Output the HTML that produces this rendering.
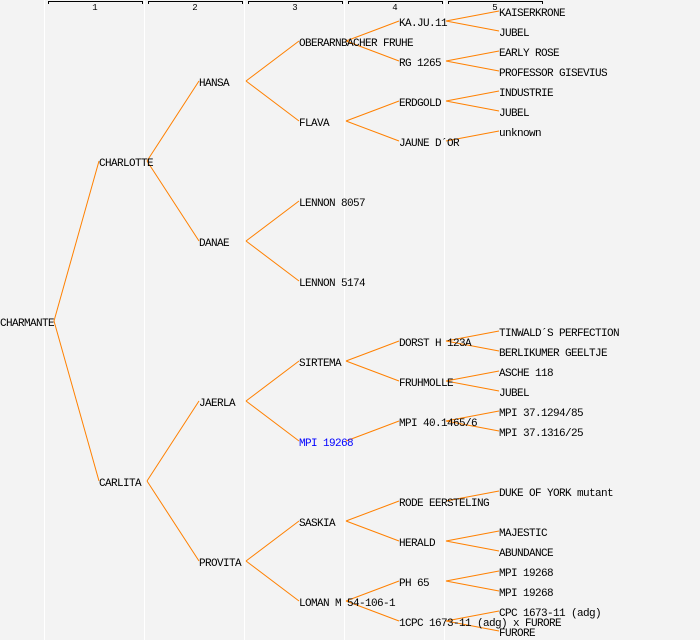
<!DOCTYPE html>
<html><head><meta charset="utf-8"><style>
html,body{margin:0;padding:0;background:#f3f3f3;}
svg{display:block}
text{font-family:"Liberation Mono","DejaVu Sans Mono",monospace;font-size:11px;letter-spacing:-0.6px;fill:#000}
</style></head><body>
<svg width="700" height="640" xmlns="http://www.w3.org/2000/svg">
<rect width="700" height="640" fill="#f3f3f3"/>
<g stroke="#fff" stroke-width="1">
<line x1="44.5" y1="0" x2="44.5" y2="640"/><line x1="144.5" y1="0" x2="144.5" y2="640"/>
<line x1="244.5" y1="0" x2="244.5" y2="640"/><line x1="344.5" y1="0" x2="344.5" y2="640"/>
<line x1="444.5" y1="0" x2="444.5" y2="640"/>
</g>
<g stroke="#000" fill="none" stroke-width="1">
<path d="M48.5 4V1.5H142.5V4"/><path d="M148.5 4V1.5H242.5V4"/><path d="M248.5 4V1.5H342.5V4"/>
<path d="M348.5 4V1.5H442.5V4"/><path d="M448.5 4V1.5H542.5V4"/>
</g>
<g>
<text x="95" y="10" text-anchor="middle" style="font-size:9px;letter-spacing:0">1</text>
<text x="195" y="10" text-anchor="middle" style="font-size:9px;letter-spacing:0">2</text>
<text x="295" y="10" text-anchor="middle" style="font-size:9px;letter-spacing:0">3</text>
<text x="395" y="10" text-anchor="middle" style="font-size:9px;letter-spacing:0">4</text>
<text x="495" y="10" text-anchor="middle" style="font-size:9px;letter-spacing:0">5</text>
</g>
<g stroke="#ff8000" stroke-width="1" fill="none">
<path d="M54 321L99 161M54 321L99 481"/>
<path d="M147 161L199 81M147 161L199 241M147 481L199 401M147 481L199 561"/>
<path d="M246 81L299 41M246 81L299 121M246 241L299 201M246 241L299 281M246 401L299 361M246 401L299 441M246 561L299 521M246 561L299 601"/>
<path d="M346 41L399 21M346 41L399 61M346 121L399 101M346 121L399 141M346 361L399 341M346 361L399 381M346 441L399 421M346 521L399 501M346 521L399 541M346 601L399 581M346 601L399 621"/>
<path d="M446 21L499 11M446 21L499 31M446 61L499 51M446 61L499 71M446 101L499 91M446 101L499 111M446 141L499 131M446 341L499 331M446 341L499 351M446 381L499 371M446 381L499 391M446 421L499 411M446 421L499 431M446 501L499 491M446 541L499 531M446 541L499 551M446 581L499 571M446 581L499 591M446 621L499 611M446 621L499 631"/>
</g>
<g>
<text x="0" y="326">CHARMANTE</text>
<text x="99" y="166">CHARLOTTE</text><text x="99" y="486">CARLITA</text>
<text x="199" y="86">HANSA</text><text x="199" y="246">DANAE</text><text x="199" y="406">JAERLA</text><text x="199" y="566">PROVITA</text>
<text x="299" y="46">OBERARNBACHER FRUHE</text><text x="299" y="126">FLAVA</text><text x="299" y="206">LENNON 8057</text><text x="299" y="286">LENNON 5174</text>
<text x="299" y="366">SIRTEMA</text><text x="299" y="446" style="fill:#0000ff">MPI 19268</text><text x="299" y="526">SASKIA</text><text x="299" y="606">LOMAN M 54-106-1</text>
<text x="399" y="26">KA.JU.11</text><text x="399" y="66">RG 1265</text><text x="399" y="106">ERDGOLD</text><text x="399" y="146">JAUNE D´OR</text>
<text x="399" y="346">DORST H 123A</text><text x="399" y="386">FRUHMOLLE</text><text x="399" y="426">MPI 40.1465/6</text>
<text x="399" y="506">RODE EERSTELING</text><text x="399" y="546">HERALD</text><text x="399" y="586">PH 65</text><text x="399" y="626">1CPC 1673-11 (adg) x FURORE</text>
<text x="499" y="16">KAISERKRONE</text><text x="499" y="36">JUBEL</text><text x="499" y="56">EARLY ROSE</text><text x="499" y="76">PROFESSOR GISEVIUS</text>
<text x="499" y="96">INDUSTRIE</text><text x="499" y="116">JUBEL</text><text x="499" y="136">unknown</text>
<text x="499" y="336">TINWALD´S PERFECTION</text><text x="499" y="356">BERLIKUMER GEELTJE</text><text x="499" y="376">ASCHE 118</text><text x="499" y="396">JUBEL</text>
<text x="499" y="416">MPI 37.1294/85</text><text x="499" y="436">MPI 37.1316/25</text>
<text x="499" y="496">DUKE OF YORK mutant</text><text x="499" y="536">MAJESTIC</text><text x="499" y="556">ABUNDANCE</text>
<text x="499" y="576">MPI 19268</text><text x="499" y="596">MPI 19268</text><text x="499" y="616">CPC 1673-11 (adg)</text><text x="499" y="636">FURORE</text>
</g>
</svg>
</body></html>
